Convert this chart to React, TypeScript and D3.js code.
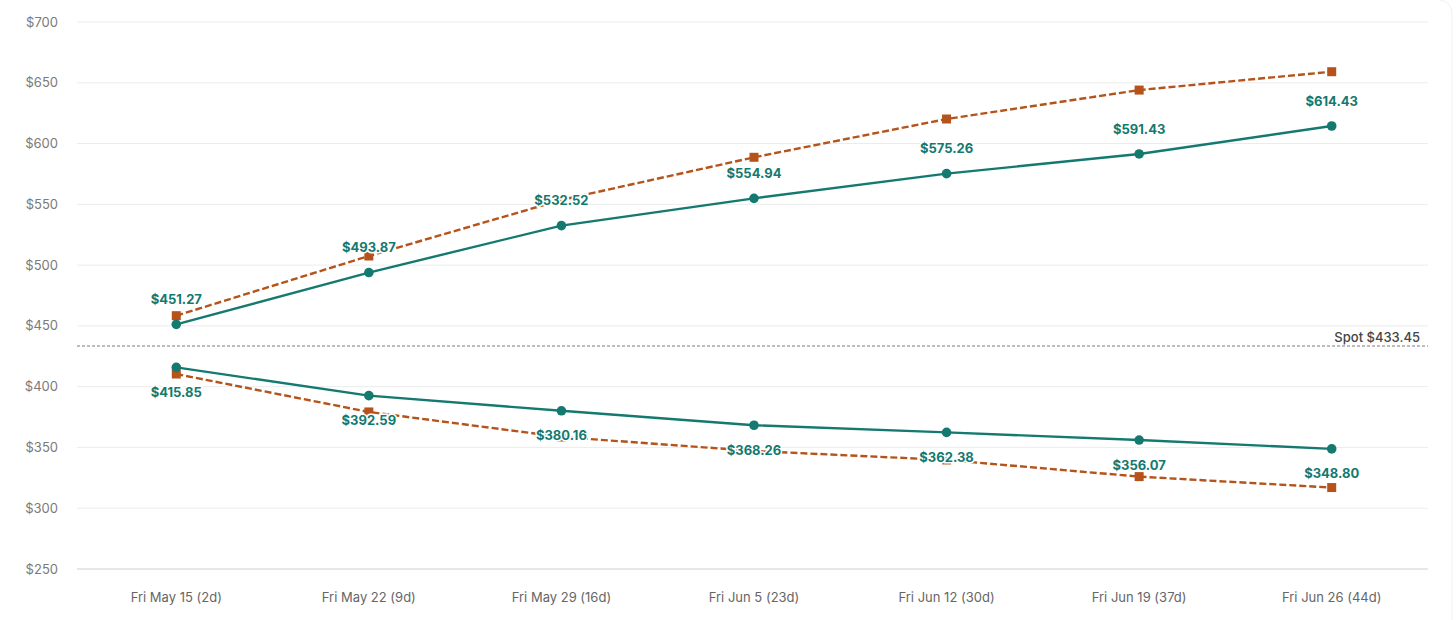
import * as d3 from 'd3'

const categories = [
  'Fri May 15 (2d)',
  'Fri May 22 (9d)',
  'Fri May 29 (16d)',
  'Fri Jun 5 (23d)',
  'Fri Jun 12 (30d)',
  'Fri Jun 19 (37d)',
  'Fri Jun 26 (44d)'
]
const upperTeal = [451.27, 493.87, 532.52, 554.94, 575.26, 591.43, 614.43]
const lowerTeal = [415.85, 392.59, 380.16, 368.26, 362.38, 356.07, 348.8]
const upperOrange = [458.4, 507.5, 553.6, 588.7, 620.2, 644.0, 659.1]
const lowerOrange = [410.4, 379.2, 358.6, 347.1, 339.7, 326.0, 317.0]
const yTicks = [250, 300, 350, 400, 450, 500, 550, 600, 650, 700]
const spot = 433.45

const W = 1456
const H = 620
const TEAL = '#14796f'
const ORANGE = '#b5531a'
const FONT = 'Inter, "Open Sans", sans-serif'

export default function App() {
  const x = d3.scalePoint<string>().domain(categories).range([80, 1428]).padding(0.5)
  const y = d3.scaleLinear().domain([250, 700]).range([569, 22])
  const gridLeft = 77
  const gridRight = 1428

  const line = d3
    .line<number>()
    .x((_, i) => x(categories[i]) as number)
    .y(d => y(d))

  const fmt = (v: number) => `$${v.toFixed(2)}`

  return (
    <svg
      width={W}
      height={H}
      style={{ position: 'absolute', left: 0, top: 0, background: '#fff', fontFamily: FONT }}
    >
      {/* card edge */}
      <path d={`M1440,0 Q1452,2 1452,14 L1452,${H}`} fill="none" stroke="#f0f0f0" strokeWidth={1} />

      {/* grid */}
      {yTicks.map(t => (
        <g key={t}>
          <line
            x1={gridLeft}
            x2={gridRight}
            y1={y(t)}
            y2={y(t)}
            stroke={t === 250 ? '#cfcfcf' : '#ececec'}
            strokeWidth={1}
          />
          <text x={58} y={y(t)} dy="0.35em" textAnchor="end" fontSize={13} fill="#7a7a7a">
            ${t}
          </text>
        </g>
      ))}

      {/* x labels */}
      {categories.map(c => (
        <text key={c} x={x(c)} y={597} dy="0.35em" textAnchor="middle" fontSize={13} fill="#666">
          {c}
        </text>
      ))}

      {/* spot line */}
      <line
        x1={gridLeft}
        x2={gridRight}
        y1={y(spot)}
        y2={y(spot)}
        stroke="#7a7a7a"
        strokeWidth={1}
        strokeDasharray="3,2"
      />
      <text x={1420} y={y(spot) - 4} textAnchor="end" fontSize={13} fontWeight={500} fill="#444">
        Spot ${spot.toFixed(2)}
      </text>

      {/* teal lines */}
      {[upperTeal, lowerTeal].map((s, k) => (
        <path key={'t' + k} d={line(s) ?? ''} fill="none" stroke={TEAL} strokeWidth={2.4} />
      ))}

      {/* orange dashed lines */}
      {[upperOrange, lowerOrange].map((s, k) => (
        <path
          key={'o' + k}
          d={line(s) ?? ''}
          fill="none"
          stroke={ORANGE}
          strokeWidth={2.4}
          strokeDasharray="7,3"
        />
      ))}

      {/* markers */}
      {[upperOrange, lowerOrange].map((s, k) =>
        s.map((v, i) => (
          <rect
            key={`om${k}-${i}`}
            x={(x(categories[i]) as number) - 4.5}
            y={y(v) - 4.5}
            width={9}
            height={9}
            fill={ORANGE}
          />
        ))
      )}
      {[upperTeal, lowerTeal].map((s, k) =>
        s.map((v, i) => (
          <circle key={`tm${k}-${i}`} cx={x(categories[i])} cy={y(v)} r={4.8} fill={TEAL} />
        ))
      )}

      {/* value labels */}
      {upperTeal.map((v, i) => (
        <text
          key={'ul' + i}
          x={x(categories[i])}
          y={y(v) - 25}
          dy="0.35em"
          textAnchor="middle"
          fontSize={13}
          fontWeight={700}
          fill={TEAL}
          stroke="#fff"
          strokeWidth={3}
          paintOrder="stroke"
        >
          {fmt(v)}
        </text>
      ))}
      {lowerTeal.map((v, i) => (
        <text
          key={'ll' + i}
          x={x(categories[i])}
          y={y(v) + 25}
          dy="0.35em"
          textAnchor="middle"
          fontSize={13}
          fontWeight={700}
          fill={TEAL}
          stroke="#fff"
          strokeWidth={3}
          paintOrder="stroke"
        >
          {fmt(v)}
        </text>
      ))}
    </svg>
  )
}
